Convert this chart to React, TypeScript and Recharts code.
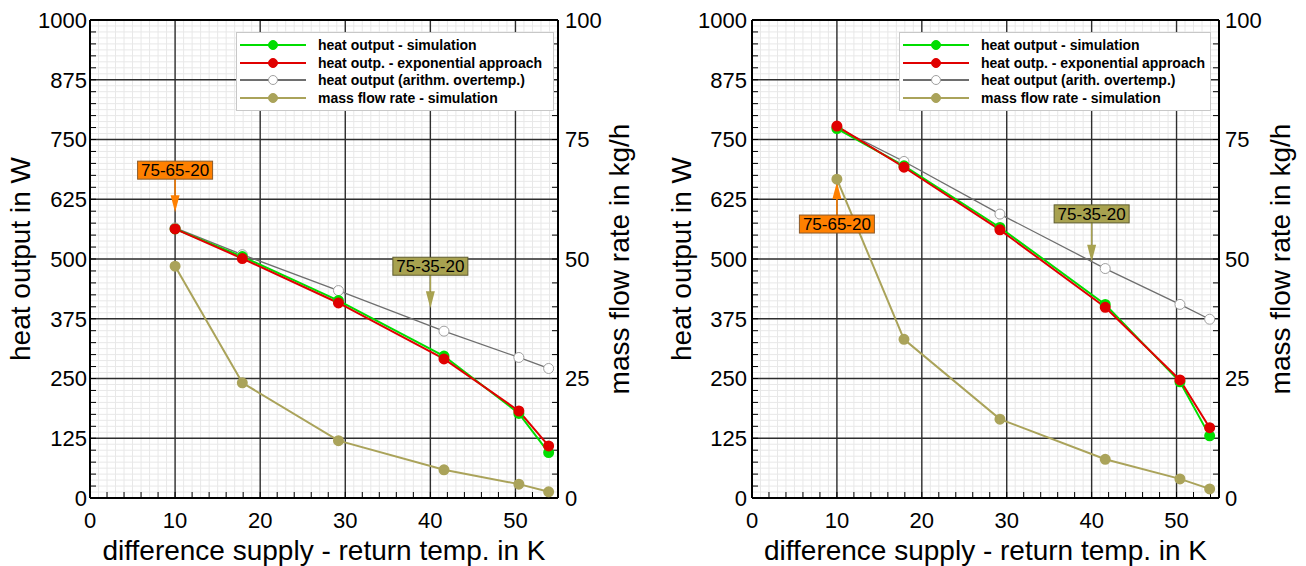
import { LineChart, Line, XAxis, YAxis, CartesianGrid, Legend, ReferenceDot, ReferenceLine, Label } from 'recharts';

// x positions (difference supply - return temperature, K)
const deltaT = [10, 17.9, 29.2, 41.6, 50.4, 53.9];

// left diagram
const simLeft = [563, 505, 413, 297, 177, 95];
const expLeft = [563, 501, 408, 291, 182, 109];
const arithLeft = [565, 509, 434, 349, 294, 271];
const massLeft = [48.5, 24.1, 12.0, 5.9, 2.9, 1.3];

// right diagram
const simRight = [773, 695, 566, 405, 243, 130];
const expRight = [778, 692, 561, 399, 247, 147];
const arithRight = [775, 704, 594, 480, 405, 374];
const massRight = [66.7, 33.2, 16.5, 8.1, 4.0, 1.9];

const xLabels = [0, 10, 20, 30, 40, 50];
const heatLabels = [0, 125, 250, 375, 500, 625, 750, 875, 1000];
const massLabels = [0, 25, 50, 75, 100];

const namesLeft = ['heat output - simulation', 'heat outp. - exponential approach', 'heat output (arithm. overtemp.)', 'mass flow rate - simulation'];
const namesRight = ['heat output - simulation', 'heat outp. - exponential approach', 'heat output (arith. overtemp.)', 'mass flow rate - simulation'];

const notesLeft = [{ label: '75-65-20', x: 10, y: 598 }, { label: '75-35-20', x: 40, y: 397 }];
const notesRight = [{ label: '75-65-20', x: 10, y: 661 }, { label: '75-35-20', x: 40, y: 494 }];

const steps = (to: number, step: number) => Array.from({ length: Math.round(to / step) + 1 }, (_, i) => i * step);

const GREEN = '#00dd00';
const RED = '#e00000';
const GRAY = '#6e6e6e';
const OLIVE = '#aaa35a';
const FONT = '"Liberation Sans", Arial, sans-serif';

const seriesStyle = [
  { key: 'sim', color: GREEN, hollow: false },
  { key: 'exp', color: RED, hollow: false },
  { key: 'arith', color: GRAY, hollow: true },
  { key: 'mass', color: OLIVE, hollow: false },
];

const vTitle = (text: string, side: 'left' | 'right', offset: number) => (props: any) => {
  const { x, y, width, height } = props.viewBox;
  const cx = side === 'left' ? x + offset : x + width - offset;
  const cy = y + height / 2;
  return (
    <text x={cx} y={cy} transform={`rotate(-90, ${cx}, ${cy})`} textAnchor="middle" dominantBaseline="central" fontSize={28} fill="#000">
      {text}
    </text>
  );
};

const noteShape = (label: string, fill: string, border: string, side: 'above' | 'below', len: number) => (props: any) => {
  const { cx, cy } = props;
  const dir = side === 'above' ? -1 : 1;
  const edge = cy + dir * len;
  const w = 75, h = 18, head = 17;
  const boxY = side === 'above' ? edge - h : edge;
  return (
    <g>
      <line x1={cx} y1={edge} x2={cx} y2={cy + dir * head} stroke={fill} strokeWidth={1.5} />
      <polygon points={`${cx},${cy} ${cx - 4.5},${cy + dir * head} ${cx + 4.5},${cy + dir * head}`} fill={fill} />
      <rect x={cx - w / 2} y={boxY} width={w} height={h} fill={fill} stroke={border} strokeWidth={1} />
      <text x={cx} y={boxY + h / 2 + 6} textAnchor="middle" fontSize={17} fill="#000">{label}</text>
    </g>
  );
};

const legendBox = (names: string[], width: number) => () => (
  <div style={{ background: '#fff', border: '1px solid #c8c8c8', width, boxSizing: 'border-box', padding: '3px 0 3px 3px', fontFamily: FONT }}>
    {seriesStyle.map((s, i) => (
      <div key={s.key} style={{ display: 'flex', alignItems: 'center', height: 17.7 }}>
        <svg width={66} height={12}>
          <line x1={0} y1={6} x2={66} y2={6} stroke={s.color} strokeWidth={2} />
          <circle cx={33} cy={6} r={4.5} fill={s.hollow ? '#fff' : s.color} stroke={s.hollow ? '#a0a0a0' : s.color} />
        </svg>
        <span style={{ marginLeft: 12, fontWeight: 'bold', fontSize: 14, color: '#000', whiteSpace: 'nowrap' }}>{names[i]}</span>
      </div>
    ))}
  </div>
);

interface HeatChartProps {
  sim: number[];
  exp: number[];
  arith: number[];
  mass: number[];
  names: string[];
  notes: { label: string; x: number; y: number }[];
  lowNote: boolean;
  leftW: number;
  rightW: number;
  leftMargin: number;
  rightMargin: number;
  leftTitle: number;
  rightTitle: number;
  legendLeft: number;
  legendW: number;
  secondLen: number;
}

function HeatChart(p: HeatChartProps) {
  const data = deltaT.map((x, i) => ({ x, sim: p.sim[i], exp: p.exp[i], arith: p.arith[i], mass: p.mass[i] }));
  return (
    <LineChart width={653} height={566} data={data} margin={{ top: 20, right: 0, bottom: 0, left: 0 }}>
      <CartesianGrid xAxisId="k" yAxisId="w" verticalValues={steps(55, 1)} horizontalValues={steps(1000, 12.5)} stroke="#e8e8e8" strokeWidth={1} />
      <CartesianGrid xAxisId="k" yAxisId="w" verticalValues={xLabels} horizontalValues={heatLabels} stroke="#2e2e2e" strokeWidth={1.4} />
      <XAxis
        xAxisId="k"
        type="number"
        dataKey="x"
        domain={[0, 55]}
        ticks={steps(54, 2)}
        interval={0}
        tickFormatter={(v: number) => (xLabels.includes(v) ? String(v) : '')}
        height={68}
        tickSize={-6}
        tickMargin={20}
        tick={{ fontSize: 22, fill: '#000' }}
        axisLine={{ stroke: '#000', strokeWidth: 2 }}
        tickLine={{ stroke: '#000' }}
      >
        <Label value="difference supply - return temp. in K" position="insideBottom" offset={6} fontSize={28} fill="#000" />
      </XAxis>
      <YAxis
        yAxisId="w"
        orientation="left"
        domain={[0, 1000]}
        ticks={steps(1000, 25)}
        interval={0}
        tickFormatter={(v: number) => (heatLabels.includes(v) ? String(v) : '')}
        width={p.leftW}
        tickSize={-6}
        tickMargin={p.leftMargin}
        tick={{ fontSize: 22, fill: '#000' }}
        axisLine={{ stroke: '#000', strokeWidth: 2 }}
        tickLine={{ stroke: '#000' }}
        label={{ content: vTitle('heat output in W', 'left', p.leftTitle) }}
      />
      <YAxis
        yAxisId="m"
        orientation="right"
        domain={[0, 100]}
        ticks={steps(100, 5)}
        interval={0}
        tickFormatter={(v: number) => (massLabels.includes(v) ? String(v) : '')}
        width={p.rightW}
        tickSize={-6}
        tickMargin={p.rightMargin}
        tick={{ fontSize: 22, fill: '#000' }}
        axisLine={{ stroke: '#000', strokeWidth: 2 }}
        tickLine={{ stroke: '#000' }}
        label={{ content: vTitle('mass flow rate in kg/h', 'right', p.rightTitle) }}
      />
      <ReferenceLine xAxisId="k" yAxisId="w" y={1000} stroke="#000" strokeWidth={2} />
      <Legend
        layout="vertical"
        align="center"
        verticalAlign="middle"
        content={legendBox(p.names, p.legendW)}
        wrapperStyle={{ top: 32, left: p.legendLeft, width: p.legendW }}
      />
      <Line xAxisId="k" yAxisId="w" dataKey="arith" name={p.names[2]} stroke={GRAY} strokeWidth={1.3}
        dot={{ r: 5, fill: '#fff', stroke: '#a0a0a0', strokeWidth: 1 }} activeDot={false} isAnimationActive={false} />
      <Line xAxisId="k" yAxisId="m" dataKey="mass" name={p.names[3]} stroke={OLIVE} strokeWidth={2}
        dot={{ r: 4.5, fill: OLIVE, stroke: OLIVE }} activeDot={false} isAnimationActive={false} />
      <Line xAxisId="k" yAxisId="w" dataKey="sim" name={p.names[0]} stroke={GREEN} strokeWidth={2}
        dot={{ r: 4.5, fill: GREEN, stroke: GREEN }} activeDot={false} isAnimationActive={false} />
      <Line xAxisId="k" yAxisId="w" dataKey="exp" name={p.names[1]} stroke={RED} strokeWidth={2}
        dot={{ r: 4.5, fill: RED, stroke: RED }} activeDot={false} isAnimationActive={false} />
      <ReferenceDot xAxisId="k" yAxisId="w" x={p.notes[0].x} y={p.notes[0].y} r={0}
        shape={noteShape(p.notes[0].label, '#ff8000', '#8a5a2a', p.lowNote ? 'below' : 'above', 33)} />
      <ReferenceDot xAxisId="k" yAxisId="w" x={p.notes[1].x} y={p.notes[1].y} r={0}
        shape={noteShape(p.notes[1].label, '#a8a250', '#5e5c30', 'above', p.secondLen)} />
    </LineChart>
  );
}

export default function App() {
  return (
    <div style={{ position: 'absolute', top: 0, left: 0, width: 1306, height: 566, display: 'flex', background: '#fff', fontFamily: FONT }}>
      <HeatChart sim={simLeft} exp={expLeft} arith={arithLeft} mass={massLeft} names={namesLeft} notes={notesLeft}
        lowNote={false} leftW={90} rightW={95} leftMargin={9} rightMargin={13} leftTitle={20} rightTitle={34}
        legendLeft={236} legendW={318} secondLen={33} />
      <HeatChart sim={simRight} exp={expRight} arith={arithRight} mass={massRight} names={namesRight} notes={notesRight}
        lowNote={true} leftW={99} rightW={87} leftMargin={11} rightMargin={12} leftTitle={28} rightTitle={26}
        legendLeft={246} legendW={312} secondLen={39} />
    </div>
  );
}
